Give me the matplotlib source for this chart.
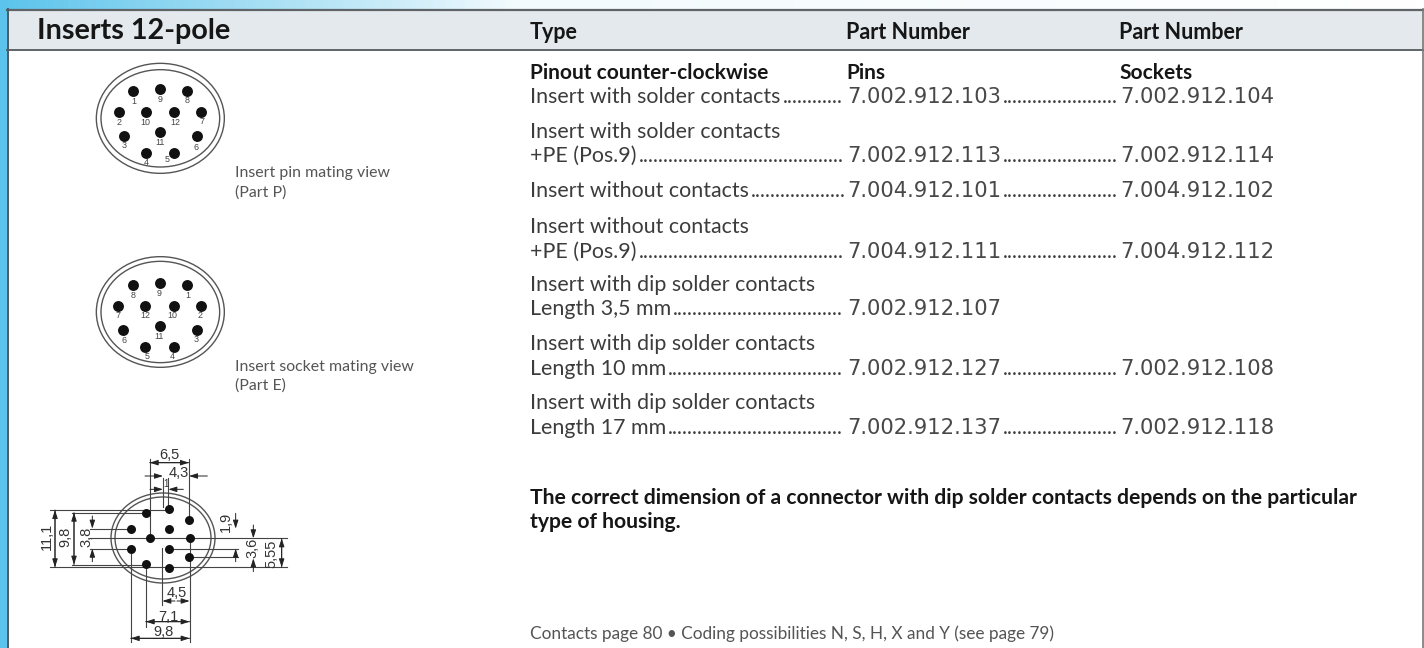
import numpy as np
import matplotlib
matplotlib.use('Agg')
import matplotlib.pyplot as plt
from matplotlib.patches import Ellipse, Rectangle

plt.rcParams['font.family'] = ['Lato', 'DejaVu Sans']

TEXT = '#3c3c3c'
DARK = '#161616'
LINE = '#555555'
FS = 15.4

title = 'Inserts 12-pole'
headers = ['Type', 'Part Number', 'Part Number']
sub_headers = ['Pinout counter-clockwise', 'Pins', 'Sockets']

row_first_lines = ['', 'Insert with solder contacts', '', 'Insert without contacts',
                   'Insert with dip solder contacts', 'Insert with dip solder contacts',
                   'Insert with dip solder contacts']
row_labels = ['Insert with solder contacts', '+PE (Pos.9)', 'Insert without contacts', '+PE (Pos.9)',
              'Length 3,5 mm', 'Length 10 mm', 'Length 17 mm']
pins_numbers = ['7.002.912.103', '7.002.912.113', '7.004.912.101', '7.004.912.111',
                '7.002.912.107', '7.002.912.127', '7.002.912.137']
sockets_numbers = ['7.002.912.104', '7.002.912.114', '7.004.912.102', '7.004.912.112',
                   '', '7.002.912.108', '7.002.912.118']
row_y = [103, 162, 197, 258, 315, 375, 434]
first_line_y = [0, 138, 0, 233, 291, 350, 409]

note_lines = ['The correct dimension of a connector with dip solder contacts depends on the particular',
              'type of housing.']
footer = 'Contacts page 80 \u2022 Coding possibilities N, S, H, X and Y (see page 79)'

# pin views, read in 3x crop coordinates
part_p_dots = [(400, 272), (480, 268), (562, 272), (356, 337), (437, 337), (523, 337),
               (604, 337), (371, 409), (481, 397), (591, 409), (437, 458), (522, 458)]
part_p_names = ['1', '9', '8', '2', '10', '12', '7', '3', '11', '6', '4', '5']
part_p_name_pos = [(402, 304), (480, 300), (562, 302), (356, 368), (436, 367), (526, 367),
                   (605, 363), (372, 438), (479, 428), (589, 442), (439, 487), (501, 480)]
part_e_dots = [(399, 854), (479, 849), (561, 854), (355, 918), (436, 918), (522, 918),
               (603, 918), (370, 991), (480, 979), (591, 991), (436, 1040), (522, 1040)]
part_e_names = ['8', '9', '1', '7', '12', '10', '2', '6', '11', '3', '5', '4']
part_e_name_pos = [(399, 887), (478, 880), (562, 885), (355, 948), (436, 948), (518, 948),
                   (599, 948), (372, 1021), (478, 1010), (587, 1019), (440, 1069), (517, 1069)]

# dimension drawing, 3x crop coordinates relative to y=430
dim_dots = [(437, 248), (507, 238), (568, 270), (392, 296), (507, 296), (449, 325),
            (571, 325), (392, 356), (507, 356), (568, 381), (437, 403), (507, 413)]
dim_lines = [(150, 240, 500, 240), (215, 248, 440, 248), (270, 296, 390, 296), (270, 325, 860, 325),
             (270, 356, 390, 356), (510, 356, 715, 356), (570, 381, 715, 381), (215, 404, 435, 404),
             (150, 412, 860, 412), (449, 88, 449, 325), (567, 88, 567, 270),
             (489, 145, 489, 230), (505, 145, 505, 240), (392, 356, 392, 635), (437, 405, 437, 590),
             (487, 355, 487, 525), (569, 325, 569, 635)]
dim_arrows = [(449, 98, 567, 98), (567, 98, 449, 98), (435, 138, 489, 138), (622, 138, 567, 138),
              (450, 178, 489, 178), (550, 178, 505, 178), (525, 513, 487, 513), (531, 513, 569, 513),
              (437, 575, 569, 575), (569, 575, 437, 575), (392, 625, 569, 625), (569, 625, 392, 625),
              (165, 240, 165, 412), (165, 412, 165, 240), (222, 248, 222, 404), (222, 404, 222, 248),
              (277, 258, 277, 296), (277, 395, 277, 356), (707, 250, 707, 296), (707, 395, 707, 356),
              (760, 285, 760, 325), (760, 425, 760, 385), (845, 325, 845, 412), (845, 412, 845, 325)]
dim_labels = ['6,5', '4,3', '1', '1,9', '3,6', '5,55', '11,1', '9,8', '3,8', '4,5', '7,1', '9,8']
dim_label_pos = [(508, 75), (535, 128), (497, 162), (678, 275), (757, 355), (815, 370),
                 (140, 320), (197, 320), (258, 320), (530, 488), (505, 560), (490, 605)]
dim_label_rot = [0, 0, 0, 90, 90, 90, 90, 90, 90, 0, 0, 0]
dim_label_size = [10.5, 10.5, 7, 10.5, 10.5, 10.5, 10.5, 10.5, 10.5, 10.5, 10.5, 10.5]


def draw_leader(ax, renderer, label, start_x, end_x, y):
    """label followed by dots up to end_x"""
    text_end = start_x
    if label:
        txt = ax.text(start_x, y, label, fontsize=FS, color=TEXT, va='baseline', ha='left')
        text_end = txt.get_window_extent(renderer).x1 + 2
    dots = ''
    probe = ax.text(text_end, y, '', fontsize=FS, color=TEXT, va='baseline', ha='left')
    while True:
        probe.set_text(dots + '.')
        if text_end + probe.get_window_extent(renderer).width > end_x:
            break
        dots += '.'
    probe.set_text(dots)


def draw_view(ax, center, dots, names, name_pos, outer, inner):
    ax.add_patch(Ellipse((center[0] / 3, center[1] / 3), outer[0] / 3, outer[1] / 3,
                         fill=False, ec=LINE, lw=1.0, zorder=2))
    ax.add_patch(Ellipse((center[0] / 3, center[1] / 3), inner[0] / 3, inner[1] / 3,
                         fill=False, ec=LINE, lw=1.0, zorder=2))
    xs = np.array([d[0] for d in dots]) / 3
    ys = np.array([d[1] for d in dots]) / 3
    ax.scatter(xs, ys, s=62, color='#111111', zorder=3, linewidths=0)
    for name, pos in zip(names, name_pos):
        ax.text(pos[0] / 3, pos[1] / 3, name, fontsize=6.4, color='#444444', ha='center', va='center',
                family='Liberation Sans', zorder=3)


def main():
    fig = plt.figure(figsize=(14.24, 6.48), dpi=100)
    ax = fig.add_axes([0, 0, 1, 1])
    ax.axis('off')
    fig.canvas.draw()
    renderer = fig.canvas.get_renderer()

    # blue page background, fading to white along the top
    gradient = np.linspace(0, 1, 400).reshape(1, -1)
    cmap = matplotlib.colors.LinearSegmentedColormap.from_list(
        'top', [(0, '#5cc4ec'), (0.12, '#8fd6f1'), (0.26, '#c5eaf8'), (0.36, '#f2fafd'), (1, '#ffffff')])
    ax.imshow(gradient, extent=(0, 1424, 9, 0), cmap=cmap, aspect='auto', zorder=0)
    ax.set_xlim(0, 1424)
    ax.set_ylim(648, 0)
    ax.add_patch(Rectangle((0, 0), 7, 648, color='#5cc4ec', zorder=0.5, lw=0))

    # panel and header
    ax.add_patch(Rectangle((7, 9), 1417, 639, fc='white', ec='none', zorder=1))
    ax.add_patch(Rectangle((7, 9), 1417, 41, fc='#e3e9ec', ec='none', zorder=1))
    ax.plot([7, 1424], [9.5, 9.5], color='#5f6468', lw=1.6, zorder=2)
    ax.plot([7, 1424], [50, 50], color='#5f6468', lw=1.4, zorder=2)
    ax.plot([7.5, 7.5], [9, 648], color='#4b5a63', lw=1.4, zorder=2)
    ax.plot([1423, 1423], [9, 648], color='#777777', lw=1.2, zorder=2)

    ax.text(37, 39, title, fontsize=20.7, fontweight='bold', color=DARK, va='baseline')
    for x, h in zip([530, 846, 1119], headers):
        ax.text(x, 39, h, fontsize=15.5, fontweight='bold', color=DARK, va='baseline')
    for x, h in zip([530, 846, 1119], sub_headers):
        ax.text(x, 79, h, fontsize=15, fontweight='bold', color=DARK, va='baseline')

    for i in range(len(row_labels)):
        if row_first_lines[i]:
            ax.text(530, first_line_y[i], row_first_lines[i], fontsize=FS, color=TEXT, va='baseline')
        draw_leader(ax, renderer, row_labels[i], 530, 846, row_y[i])
        pin_txt = ax.text(847, row_y[i], pins_numbers[i], fontsize=15.2, color='#484848', va='baseline',
                          family='DejaVu Sans')
        if sockets_numbers[i]:
            draw_leader(ax, renderer, '', pin_txt.get_window_extent(renderer).x1 + 2, 1119, row_y[i])
            ax.text(1120, row_y[i], sockets_numbers[i], fontsize=15.2, color='#484848', va='baseline',
                    family='DejaVu Sans')

    for y, line in zip([504, 528], note_lines):
        ax.text(530, y, line, fontsize=15.2, fontweight='bold', color=DARK, va='baseline')
    ax.text(530, 639, footer, fontsize=12.4, color='#555555', va='baseline')

    for y, line in zip([173, 193, 367, 386],
                       ['Insert pin mating view', '(Part P)', 'Insert socket mating view', '(Part E)']):
        ax.text(235, y, line, fontsize=11.4, color='#555555', va='center')

    draw_view(ax, (481, 355), part_p_dots, part_p_names, part_p_name_pos, (384, 330), (356, 292))
    draw_view(ax, (481, 936), part_e_dots, part_e_names, part_e_name_pos, (384, 332), (356, 304))

    # dimension drawing
    y0 = 430
    ax.add_patch(Ellipse((163, y0 + 108), 104, 90, fill=False, ec=LINE, lw=1.0, zorder=2))
    ax.add_patch(Ellipse((163, y0 + 108), 96, 82, fill=False, ec=LINE, lw=1.0, zorder=2))
    for x1, y1, x2, y2 in dim_lines:
        ax.plot([x1 / 3, x2 / 3], [y0 + y1 / 3, y0 + y2 / 3], color='#444444', lw=0.8, zorder=2)
    for x1, y1, x2, y2 in dim_arrows:
        ax.annotate('', xy=(x2 / 3, y0 + y2 / 3), xytext=(x1 / 3, y0 + y1 / 3), zorder=3,
                    arrowprops=dict(arrowstyle='-|>,head_length=0.5,head_width=0.16', color='#222222',
                                    lw=0.7, shrinkA=0, shrinkB=0))
    ax.scatter([d[0] / 3 for d in dim_dots], [y0 + d[1] / 3 for d in dim_dots], s=42,
               color='#111111', zorder=4, linewidths=0)
    for label, pos, rot, size in zip(dim_labels, dim_label_pos, dim_label_rot, dim_label_size):
        ax.text(pos[0] / 3, y0 + pos[1] / 3, label, fontsize=size, color='#333333', ha='center', va='center',
                rotation=rot, family='Liberation Sans', zorder=3)

    fig.savefig('out.png', dpi=100)


if __name__ == "__main__":
    main()
